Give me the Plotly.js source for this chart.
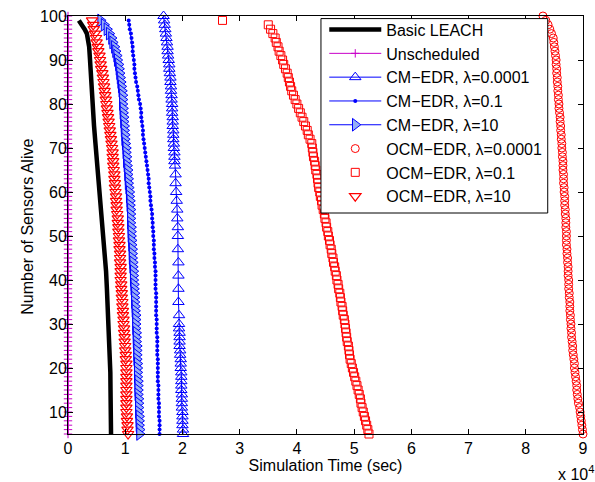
<!DOCTYPE html>
<html>
<head>
<meta charset="utf-8">
<script src="https://cdn.plot.ly/plotly-3.0.1.min.js"></script>
<style>html,body{margin:0;padding:0;background:#fff;}#chart{width:595px;height:482px;}</style>
</head>
<body>
<div id="chart"></div>
<script>
// Times are in units of 10^4 seconds; y = number of sensors alive.
const seriesNames = ["Basic LEACH", "Unscheduled", "CM\u2212EDR, \u03bb=0.0001", "CM\u2212EDR, \u03bb=0.1", "CM\u2212EDR, \u03bb=10", "OCM\u2212EDR, \u03bb=0.0001", "OCM\u2212EDR, \u03bb=0.1", "OCM\u2212EDR, \u03bb=10"];

const alive100 = [100,99,98,97,96,95,94,93,92,91,90,89,88,87,86,85,84,83,82,81,80,79,78,77,76,75,74,73,72,71,70,69,68,67,66,65,64,63,62,61,60,59,58,57,56,55,54,53,52,51,50,49,48,47,46,45,44,43,42,41,40,39,38,37,36,35,34,33,32,31,30,29,28,27,26,25,24,23,22,21,20,19,18,17,16,15,14,13,12,11,10,9,8,7,6,5];
const alive99 = [99,98,97,96,95,94,93,92,91,90,89,88,87,86,85,84,83,82,81,80,79,78,77,76,75,74,73,72,71,70,69,68,67,66,65,64,63,62,61,60,59,58,57,56,55,54,53,52,51,50,49,48,47,46,45,44,43,42,41,40,39,38,37,36,35,34,33,32,31,30,29,28,27,26,25,24,23,22,21,20,19,18,17,16,15,14,13,12,11,10,9,8,7,6,5];

const leachAlive = [99,98,97,96,95,94,93,90,86,82,79,75,71,67,63,59,56,53,50,46,42,38,34,31,27,23,19,15,11,8,5];
const leachTime  = [0.19,0.25,0.29,0.33,0.35,0.36,0.37,0.385,0.40,0.415,0.43,0.455,0.48,0.505,0.535,0.565,0.59,0.61,0.63,0.65,0.665,0.68,0.695,0.71,0.72,0.73,0.74,0.743,0.748,0.75,0.752];

const unschedTime = [0,0,0,0,0,0,0,0,0,0,0,0,0,0,0,0,0,0,0,0,0,0,0,0,0,0,0,0,0,0,0,0,0,0,0,0,0,0,0,0,0,0,0,0,0,0,0,0,0,0,0,0,0,0,0,0,0,0,0,0,0,0,0,0,0,0,0,0,0,0,0,0,0,0,0,0,0,0,0,0,0,0,0,0,0,0,0,0,0,0,0,0,0,0,0,0];

const cm0001Alive = [100,99,98,97,96,95,94,93,92,91,90,89,88,87,86,85,84,83,82,81,80,79,78,77,76,75,74,73,72,71,70,69,68,67,66,64,62,60,58,56,54,52,50,47,44,41,38,35,32,30,29,28,27,26,25,24,23,22,21,20,19,18,17,16,15,14,13,12,11,10,9,8,7,6,5];
const cm0001Time  = [1.67,1.68,1.69,1.70,1.71,1.72,1.73,1.74,1.74,1.75,1.76,1.77,1.77,1.78,1.79,1.79,1.80,1.80,1.81,1.81,1.82,1.82,1.82,1.83,1.83,1.83,1.84,1.84,1.84,1.85,1.85,1.86,1.86,1.86,1.87,1.88,1.88,1.89,1.90,1.91,1.91,1.92,1.92,1.92,1.93,1.93,1.93,1.93,1.94,1.94,1.94,1.95,1.95,1.95,1.95,1.96,1.96,1.97,1.97,1.97,1.98,1.98,1.98,1.98,1.98,1.99,1.99,1.99,1.99,2.00,2.00,2.00,2.00,2.01,2.01];

const cm01Time = [1.06,1.07,1.08,1.10,1.11,1.12,1.13,1.13,1.14,1.15,1.16,1.16,1.17,1.18,1.19,1.21,1.22,1.23,1.24,1.26,1.27,1.28,1.28,1.29,1.30,1.31,1.31,1.32,1.33,1.34,1.35,1.36,1.37,1.38,1.39,1.40,1.41,1.41,1.42,1.43,1.44,1.44,1.45,1.46,1.47,1.47,1.48,1.48,1.49,1.49,1.50,1.50,1.50,1.51,1.51,1.52,1.52,1.53,1.53,1.53,1.53,1.53,1.54,1.54,1.54,1.54,1.54,1.54,1.55,1.55,1.55,1.55,1.56,1.56,1.56,1.56,1.56,1.57,1.57,1.57,1.57,1.57,1.57,1.58,1.58,1.58,1.58,1.59,1.59,1.59,1.59,1.60,1.60,1.60,1.60];

const cm10Time = [0.57,0.63,0.68,0.72,0.76,0.78,0.81,0.83,0.85,0.86,0.88,0.89,0.90,0.91,0.92,0.93,0.94,0.95,0.95,0.95,0.96,0.96,0.97,0.97,0.98,0.98,0.99,0.99,1.00,1.01,1.01,1.02,1.02,1.03,1.04,1.04,1.05,1.05,1.06,1.07,1.07,1.08,1.08,1.09,1.09,1.09,1.09,1.10,1.10,1.10,1.11,1.11,1.12,1.12,1.12,1.13,1.13,1.14,1.14,1.14,1.15,1.15,1.16,1.16,1.16,1.17,1.17,1.18,1.18,1.18,1.18,1.19,1.19,1.19,1.20,1.20,1.20,1.20,1.21,1.21,1.21,1.21,1.22,1.22,1.22,1.22,1.23,1.23,1.23,1.23,1.24,1.24,1.24,1.25,1.25];

const ocm0001Time = [8.30,8.35,8.39,8.42,8.45,8.48,8.49,8.50,8.51,8.52,8.53,8.53,8.54,8.54,8.55,8.55,8.56,8.56,8.57,8.57,8.58,8.58,8.59,8.60,8.60,8.61,8.61,8.62,8.62,8.63,8.63,8.64,8.64,8.65,8.65,8.65,8.66,8.66,8.66,8.67,8.67,8.68,8.68,8.68,8.69,8.69,8.70,8.70,8.70,8.71,8.71,8.71,8.71,8.72,8.72,8.73,8.73,8.74,8.74,8.74,8.75,8.75,8.75,8.76,8.76,8.77,8.77,8.77,8.78,8.78,8.79,8.79,8.80,8.80,8.81,8.82,8.82,8.83,8.84,8.85,8.85,8.86,8.87,8.88,8.89,8.89,8.90,8.91,8.92,8.94,8.95,8.96,8.97,8.98,8.99,9.00];

const ocm01Time = [2.70,3.50,3.54,3.58,3.62,3.64,3.67,3.69,3.72,3.75,3.77,3.80,3.83,3.85,3.87,3.89,3.91,3.94,3.97,4.00,4.03,4.06,4.09,4.12,4.15,4.18,4.20,4.23,4.26,4.27,4.28,4.29,4.31,4.32,4.33,4.35,4.36,4.37,4.38,4.40,4.41,4.43,4.44,4.46,4.48,4.49,4.51,4.52,4.54,4.55,4.57,4.58,4.60,4.61,4.63,4.64,4.66,4.67,4.69,4.70,4.72,4.73,4.75,4.76,4.77,4.79,4.80,4.81,4.83,4.84,4.85,4.86,4.87,4.88,4.90,4.91,4.92,4.93,4.95,4.97,4.99,5.01,5.03,5.05,5.07,5.09,5.11,5.12,5.14,5.16,5.18,5.20,5.22,5.24,5.26];

const ocm10Time = [0.42,0.44,0.45,0.47,0.49,0.50,0.52,0.53,0.55,0.56,0.57,0.58,0.60,0.61,0.62,0.63,0.64,0.65,0.66,0.67,0.68,0.69,0.70,0.71,0.72,0.73,0.74,0.75,0.76,0.77,0.78,0.78,0.79,0.79,0.80,0.81,0.81,0.82,0.82,0.83,0.84,0.84,0.85,0.85,0.86,0.87,0.87,0.88,0.88,0.89,0.89,0.90,0.90,0.91,0.91,0.91,0.92,0.92,0.92,0.92,0.93,0.93,0.94,0.94,0.95,0.95,0.96,0.96,0.97,0.97,0.98,0.98,0.99,0.99,1.00,1.00,1.01,1.01,1.02,1.02,1.02,1.02,1.02,1.02,1.02,1.02,1.02,1.02,1.02,1.02,1.03,1.03,1.04,1.04,1.05];

const xTickVals = [0,1,2,3,4,5,6,7,8,9];
const yTickVals = [10,20,30,40,50,60,70,80,90,100];

const FONT = "Liberation Sans, Arial, Helvetica, sans-serif";
const BLUE = "rgb(0,0,255)", RED = "rgb(255,0,0)", MAG = "rgb(200,0,200)";

const traces = [
  {name: seriesNames[0], x: leachTime, y: leachAlive, mode: "lines", line: {color: "black", width: 4.5}},
  {name: seriesNames[1], x: unschedTime, y: alive100, mode: "lines+markers", cliponaxis: false,
   line: {color: MAG, width: 1}, marker: {symbol: "cross-thin", size: 6, color: MAG, line: {color: MAG, width: 1}}},
  {name: seriesNames[2], x: cm0001Time, y: cm0001Alive, mode: "lines+markers", cliponaxis: false,
   line: {color: BLUE, width: 1}, marker: {symbol: "triangle-up-open", size: 10, color: BLUE, line: {width: 1}}},
  {name: seriesNames[3], x: cm01Time, y: alive99, mode: "lines+markers", cliponaxis: false,
   line: {color: BLUE, width: 1}, marker: {symbol: "circle", size: 4, color: BLUE}},
  {name: seriesNames[4], x: cm10Time, y: alive99, mode: "lines+markers", cliponaxis: false,
   line: {color: BLUE, width: 1}, marker: {symbol: "triangle-right", size: 11, color: "rgb(150,175,245)", line: {color: BLUE, width: 1}}},
  {name: seriesNames[5], x: ocm0001Time, y: alive100, mode: "markers", cliponaxis: false,
   marker: {symbol: "circle-open", size: 8, color: RED, line: {width: 1}}},
  {name: seriesNames[6], x: ocm01Time, y: alive99, mode: "markers", cliponaxis: false,
   marker: {symbol: "square-open", size: 8, color: RED, line: {width: 1}}},
  {name: seriesNames[7], x: ocm10Time, y: alive99, mode: "markers", cliponaxis: false,
   marker: {symbol: "triangle-down-open", size: 10, color: RED, line: {width: 1.2}}}
];

const axisCommon = {
  showline: true, linecolor: "black", linewidth: 1, mirror: "ticks",
  ticks: "inside", ticklen: 5, tickwidth: 1, tickcolor: "black",
  showgrid: false, zeroline: false,
  tickfont: {family: FONT, size: 16, color: "black"}
};

const layout = {
  width: 595, height: 482,
  margin: {l: 67.5, r: 12, t: 15.7, b: 47.7},
  paper_bgcolor: "white", plot_bgcolor: "white",
  font: {family: FONT, size: 16, color: "black"},
  showlegend: true,
  xaxis: Object.assign({}, axisCommon, {
    range: [0, 9], tickvals: xTickVals, ticktext: xTickVals.map(String),
    title: {text: "Simulation Time (sec)", font: {family: FONT, size: 16, color: "black"}, standoff: 2}
  }),
  yaxis: Object.assign({}, axisCommon, {
    range: [5, 100], tickvals: yTickVals, ticktext: yTickVals.map(String),
    ticklabelstandoff: -3
  }),
  legend: {
    x: 0.4976, y: 1.008, xanchor: "left", yanchor: "top",
    bgcolor: "rgba(0,0,0,0)", borderwidth: 0,
    font: {family: FONT, size: 16, color: "black"}, itemwidth: 52, tracegroupgap: 0
  },
  shapes: [{
    type: "rect", xref: "paper", yref: "paper", layer: "above",
    x0: 0.4912, x1: 0.9315, y0: 0.5287, y1: 0.9938,
    fillcolor: "white", line: {color: "black", width: 1}
  }],
  annotations: [
    {xref: "paper", yref: "paper", x: -0.0776, y: 0.496, xanchor: "center", yanchor: "middle",
     textangle: -90, text: "Number of Sensors Alive", showarrow: false,
     font: {family: FONT, size: 16, color: "black"}},
    {xref: "paper", yref: "paper", x: 1.025, y: -0.093, xanchor: "right", yanchor: "middle",
     text: "x 10<sup>4</sup>", showarrow: false, font: {family: FONT, size: 16, color: "black"}}
  ]
};

Plotly.newPlot("chart", traces, layout, {displayModeBar: false, staticPlot: true});
</script>
</body>
</html>
